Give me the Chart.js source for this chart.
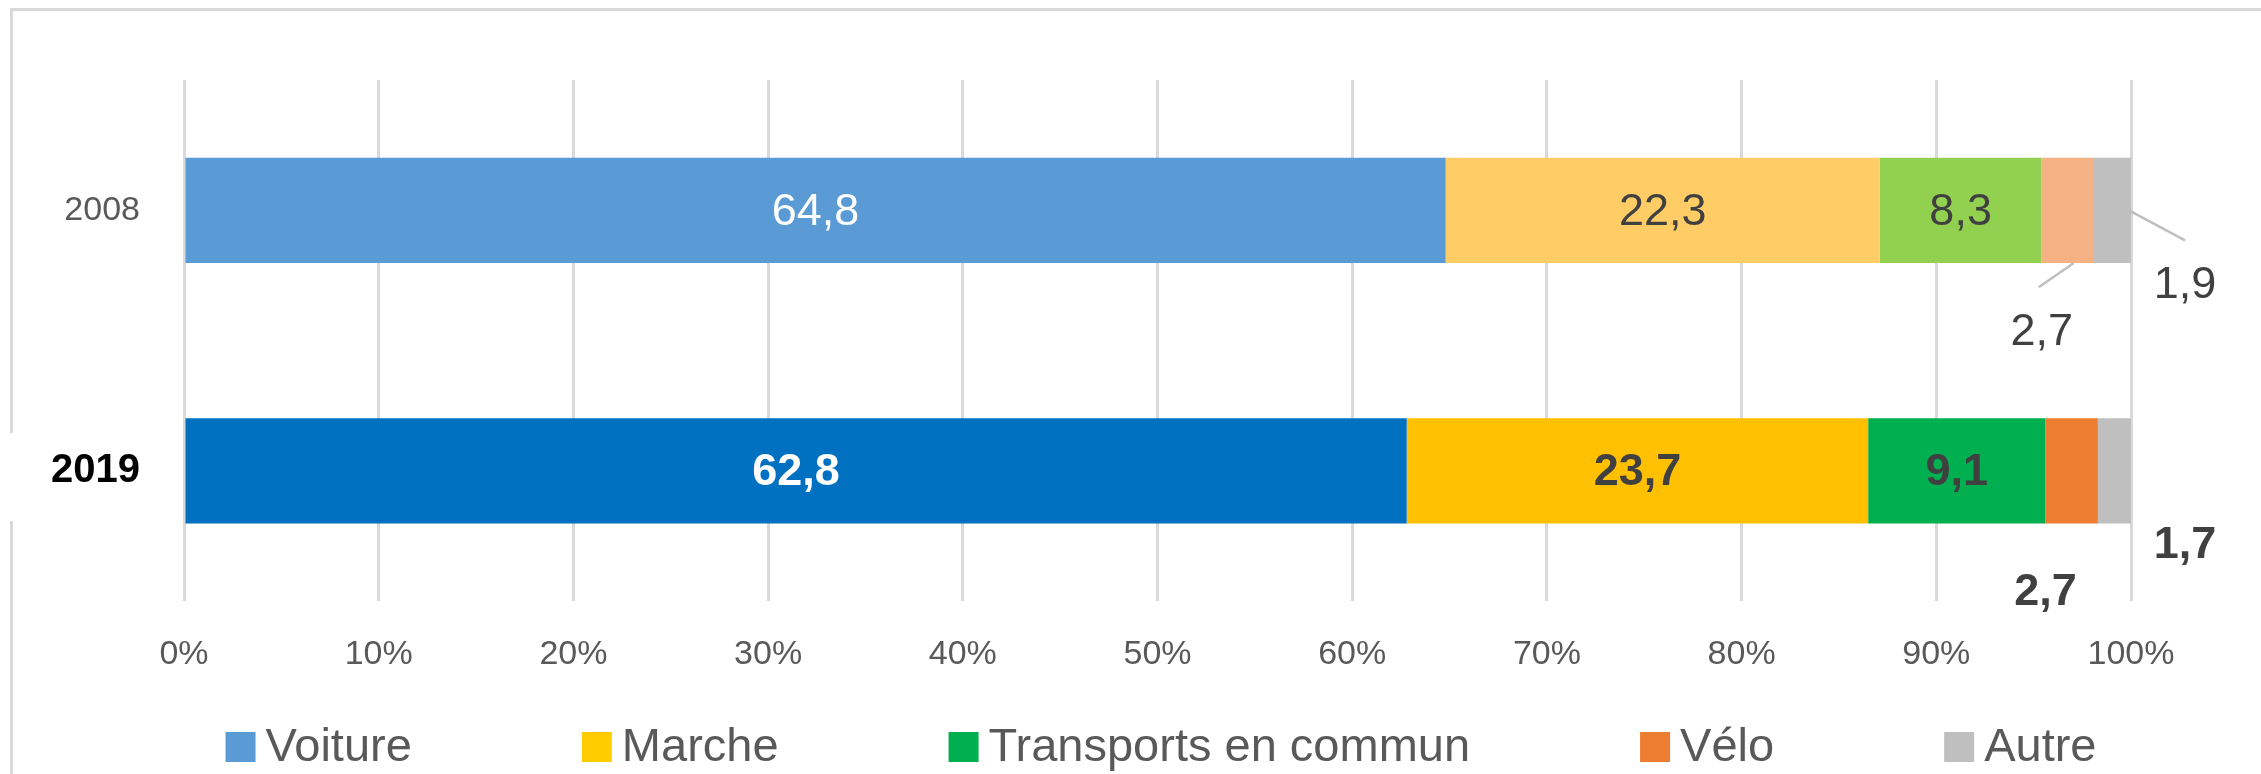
<!DOCTYPE html>
<html lang="fr">
  <head>
    <meta charset="UTF-8" />
    <title>Parts modales 2008 / 2019</title>
    <script src="https://cdn.jsdelivr.net/npm/chart.js"></script>
    <style>
      html, body { margin: 0; padding: 0; background: #fff; }
      canvas { display: block; }
    </style>
  </head>
  <body>
    <canvas id="myChart" width="2261" height="774"></canvas>
    <script>
      // données
      var years = ["2008", "2019"]
      var modes = ["Voiture", "Marche", "Transports en commun", "Vélo", "Autre"]
      var voiture = [64.8, 62.8]
      var marche = [22.3, 23.7]
      var transports = [8.3, 9.1]
      var velo = [2.7, 2.7]
      var autre = [1.9, 1.7]
      var xTicks = [0, 10, 20, 30, 40, 50, 60, 70, 80, 90, 100]

      // couleurs : [2008, 2019] puis couleur de la légende
      var barColors = [
        ["#5B9BD5", "#0070C0"],
        ["#FFCC66", "#FFC000"],
        ["#92D050", "#00B050"],
        ["#F4B183", "#ED7D31"],
        ["#BFBFBF", "#BFBFBF"],
      ]
      var legendColors = ["#5B9BD5", "#FFCC00", "#00B050", "#ED7D31", "#BFBFBF"]

      var FONT = "'Liberation Sans', Arial, sans-serif"

      document.addEventListener("DOMContentLoaded", function () {
        var ctx = document.getElementById("myChart").getContext("2d")
        var series = [voiture, marche, transports, velo, autre]

        var data = {
          labels: years,
          datasets: modes.map(function (name, i) {
            return {
              label: name,
              data: series[i],
              backgroundColor: barColors[i],
              borderWidth: 0,
              barPercentage: 0.404,
              categoryPercentage: 1,
            }
          }),
        }

        // cadre gris autour du graphique
        var frame = {
          id: "frame",
          beforeDraw: function (chart) {
            var c = chart.ctx
            c.save()
            c.fillStyle = "#fff"
            c.fillRect(0, 0, chart.width, chart.height)
            c.fillStyle = "#D9D9D9"
            c.fillRect(10, 8, chart.width - 10, 3)
            c.fillRect(10, 8, 3, chart.height - 8)
            c.restore()
          },
        }

        // étiquettes de valeurs
        var valueLabels = {
          id: "valueLabels",
          afterDatasetsDraw: function (chart) {
            var c = chart.ctx
            c.save()
            c.textAlign = "center"
            c.textBaseline = "middle"
            chart.data.datasets.forEach(function (ds, di) {
              var meta = chart.getDatasetMeta(di)
              meta.data.forEach(function (bar, i) {
                var p = bar.getProps(["x", "y", "base", "height"], true)
                var cx = (p.x + p.base) / 2
                var txt = String(ds.data[i]).replace(".", ",")
                var bold = i === 1
                c.font = (bold ? "bold " : "") + "45px " + FONT
                var tx = cx
                var ty = p.y + 2
                if (di === 3) {
                  tx = cx - 26
                  ty = p.y + 122
                } else if (di === 4) {
                  tx = p.x + 54
                  ty = p.y + 75
                }
                if (i === 0 && di >= 3) {
                  c.strokeStyle = "#BFBFBF"
                  c.lineWidth = 2.5
                  c.beginPath()
                  if (di === 3) {
                    c.moveTo(cx + 6, p.y + p.height / 2)
                    c.lineTo(tx - 3, ty - 45)
                  } else {
                    c.moveTo(p.x - 2, p.y)
                    c.lineTo(tx, ty - 45)
                  }
                  c.stroke()
                }
                c.fillStyle = di === 0 ? "#FFFFFF" : "#404040"
                c.fillText(txt, tx, ty)
              })
            })
            c.restore()
          },
        }

        // légende en bas
        var bottomLegend = {
          id: "bottomLegend",
          afterDraw: function (chart) {
            var c = chart.ctx
            var box = 30
            var gap = 10
            var spacing = 170
            c.save()
            c.font = "47px " + FONT
            c.textBaseline = "middle"
            c.textAlign = "left"
            var widths = modes.map(function (m) {
              return c.measureText(m).width
            })
            var total = widths.reduce(function (a, w) {
              return a + box + gap + w
            }, 0) + spacing * (modes.length - 1)
            var x = 1161 - total / 2
            var y = 747
            modes.forEach(function (m, i) {
              c.fillStyle = legendColors[i]
              c.fillRect(x, y - box / 2, box, box)
              c.fillStyle = "#595959"
              c.fillText(m, x + box + gap, y + 1)
              x += box + gap + widths[i] + spacing
            })
            c.restore()
          },
        }

        var myChart = new Chart(ctx, {
          type: "bar",
          data: data,
          options: {
            indexAxis: "y",
            responsive: false,
            animation: false,
            devicePixelRatio: 1,
            layout: {
              padding: { top: 80, right: 130, bottom: 66, left: 0 },
            },
            plugins: {
              legend: { display: false },
              tooltip: { enabled: false },
            },
            scales: {
              x: {
                stacked: true,
                min: 0,
                max: 100,
                afterBuildTicks: function (axis) {
                  axis.ticks = xTicks.map(function (v) {
                    return { value: v }
                  })
                },
                grid: {
                  color: "#D9D9D9",
                  lineWidth: 3,
                  drawTicks: false,
                },
                border: { display: false },
                ticks: {
                  padding: 33,
                  color: "#595959",
                  font: { family: FONT, size: 34 },
                  callback: function (v) {
                    return v + "%"
                  },
                },
              },
              y: {
                stacked: true,
                grid: { display: false, drawTicks: false },
                border: { display: false },
                afterFit: function (axis) {
                  axis.width = 184
                },
                ticks: {
                  padding: 44,
                  color: function (c) {
                    return c.index === 1 ? "#000000" : "#595959"
                  },
                  font: function (c) {
                    return c.index === 1
                      ? { family: FONT, size: 40, weight: "bold" }
                      : { family: FONT, size: 34 }
                  },
                  showLabelBackdrop: function (c) {
                    return c.index === 1
                  },
                  backdropColor: "#FFFFFF",
                  backdropPadding: { top: 14, bottom: 26, left: 42, right: 0 },
                },
              },
            },
          },
          plugins: [frame, valueLabels, bottomLegend],
        })
      })
    </script>
  </body>
</html>
